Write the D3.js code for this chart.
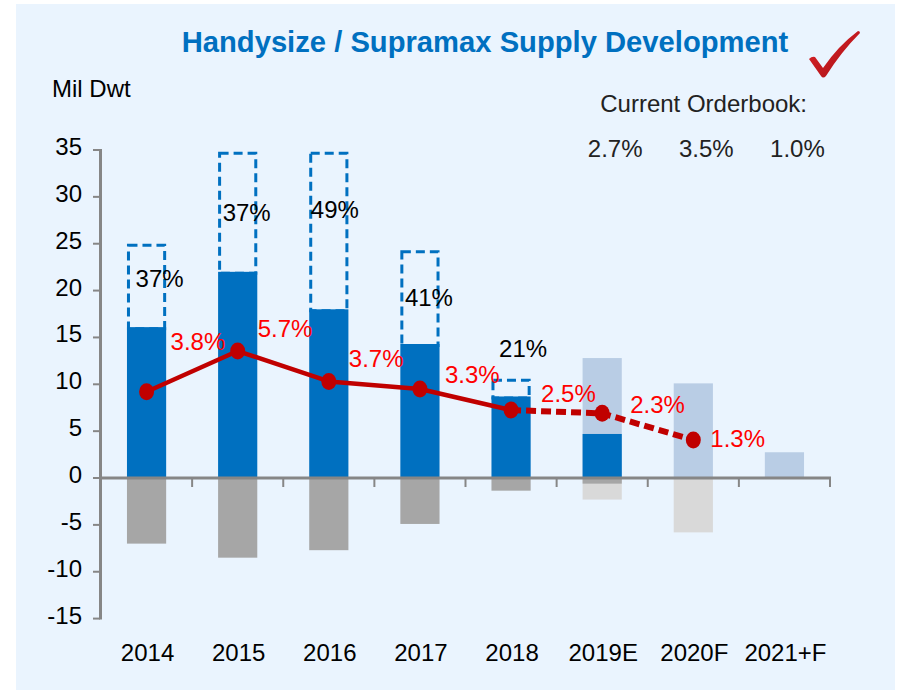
<!DOCTYPE html>
<html>
<head>
<meta charset="utf-8">
<script src="https://cdn.jsdelivr.net/npm/d3@7/dist/d3.min.js"></script>
<style>
  html, body { margin: 0; padding: 0; background: #ffffff; }
  svg { display: block; }
  text { font-family: "Liberation Sans", Arial, sans-serif; }
</style>
</head>
<body>
<svg id="chart" width="898" height="690"></svg>
<script>
// ---------- data ----------
const categories = ['2014', '2015', '2016', '2017', '2018', '2019E', '2020F', '2021+F'];
const deliveries = [16.1, 22.0, 18.0, 14.3, 8.7, 4.7, null, null];          // actual deliveries (blue)
const scheduled = [25.0, 34.8, 34.8, 24.3, 10.6, null, null, null];         // scheduled total (dashed box top)
const orderbook = [null, null, null, null, null, 12.8, 10.1, 2.75];          // orderbook (light blue)
const scrapActual = [-7.0, -8.5, -7.7, -4.9, -1.35, -0.6, null, null];      // demolition (grey)
const scrapForecast = [null, null, null, null, null, -2.3, -5.8, null];     // projected demolition (light grey)
const netFleet = [9.2, 13.55, 10.3, 9.5, 7.25, 6.9, 4.05, null];           // net fleet growth (red line)
const growthLabels = ['3.8%', '5.7%', '3.7%', '3.3%', '2.5%', '2.3%', '1.3%'];
const slippageLabels = ['37%', '37%', '49%', '41%', '21%'];
const orderbookCats = ['2019E', '2020F', '2021+F'];
const orderbookLabels = ['2.7%', '3.5%', '1.0%'];
const yTicks = [35, 30, 25, 20, 15, 10, 5, 0, -5, -10, -15];

// ---------- layout (label placement, pixel offsets / label anchors) ----------
const slipLabelLayout = [{dx: 13, y: 20.4}, {dx: 9, y: 27.45}, {dx: 6, y: 27.7}, {dx: 9, y: 18.35}, {dx: 12, y: 12.95}];
const growthLabelLayout = [{dx: 24, y: 13.66}, {dx: 20, y: 15.08}, {dx: 20, y: 11.81}, {dx: 25, y: 10.1},
                           {dx: 30, y: 8.14}, {dx: 28, y: 6.9}, {dx: 17, y: 3.34}];

const C = {
  panel: '#EAF4FE', blue: '#0070C0', lightBlue: '#B9CDE5', grey: '#A6A6A6', lightGrey: '#D9D9D9',
  red: '#C00000', redText: '#FF0000', axis: '#868686', text: '#000000'
};
const FS = 24;

const svg = d3.select('#chart');
svg.append('rect').attr('x', 16).attr('y', 4).attr('width', 879).attr('height', 686).attr('fill', C.panel);

const x = d3.scaleBand().domain(categories).range([101, 830]).padding(0);
const y = d3.scaleLinear().domain([-15, 35]).range([618.6, 150]);
const bw = x.bandwidth() * 0.43;
const cx = c => x(c) + x.bandwidth() / 2;
const bx = c => cx(c) - bw / 2;

const g = svg.append('g');

// scrapping
g.selectAll('.scrapF').data(categories.map((c, i) => ({c, v: scrapForecast[i]})).filter(d => d.v != null))
  .enter().append('rect')
  .attr('x', d => bx(d.c)).attr('width', bw)
  .attr('y', y(0)).attr('height', d => y(d.v) - y(0)).attr('fill', C.lightGrey);
g.selectAll('.scrapA').data(categories.map((c, i) => ({c, v: scrapActual[i]})).filter(d => d.v != null))
  .enter().append('rect')
  .attr('x', d => bx(d.c)).attr('width', bw)
  .attr('y', y(0)).attr('height', d => y(d.v) - y(0)).attr('fill', C.grey);

// orderbook
g.selectAll('.ob').data(categories.map((c, i) => ({c, v: orderbook[i]})).filter(d => d.v != null))
  .enter().append('rect')
  .attr('x', d => bx(d.c)).attr('width', bw)
  .attr('y', d => y(d.v)).attr('height', d => y(0) - y(d.v)).attr('fill', C.lightBlue);

// scheduled dashed boxes
g.selectAll('.sched').data(categories.map((c, i) => ({c, v: scheduled[i], d: deliveries[i]})).filter(d => d.v != null))
  .enter().append('rect')
  .attr('x', d => bx(d.c) + 1.5).attr('width', bw - 3)
  .attr('y', d => y(d.v) + 1.5).attr('height', d => y(d.d) - y(d.v))
  .attr('fill', 'none').attr('stroke', C.blue).attr('stroke-width', 3)
  .attr('stroke-dasharray', '9,5');

// deliveries
g.selectAll('.del').data(categories.map((c, i) => ({c, v: deliveries[i]})).filter(d => d.v != null))
  .enter().append('rect')
  .attr('x', d => bx(d.c)).attr('width', bw)
  .attr('y', d => y(d.v)).attr('height', d => y(0) - y(d.v)).attr('fill', C.blue);

// axes
const axisG = svg.append('g');
axisG.append('line').attr('x1', 100.5).attr('x2', 100.5).attr('y1', y(35) - 1).attr('y2', y(-15) + 1)
  .attr('stroke', C.axis).attr('stroke-width', 3);
axisG.selectAll('.yt').data(yTicks).enter().append('line')
  .attr('x1', 93).attr('x2', 100).attr('y1', d => y(d)).attr('y2', d => y(d))
  .attr('stroke', C.axis).attr('stroke-width', 2);
axisG.selectAll('.yl').data(yTicks).enter().append('text')
  .attr('x', 82).attr('y', d => y(d) + 5).attr('text-anchor', 'end')
  .attr('font-size', FS).attr('fill', C.text).text(d => d);

axisG.append('line').attr('x1', 99).attr('x2', 831).attr('y1', y(0)).attr('y2', y(0))
  .attr('stroke', C.axis).attr('stroke-width', 3);
axisG.selectAll('.xt').data(categories).enter().append('line')
  .attr('x1', d => x(d) + x.bandwidth()).attr('x2', d => x(d) + x.bandwidth())
  .attr('y1', y(0)).attr('y2', y(0) + 9)
  .attr('stroke', C.axis).attr('stroke-width', 2);
axisG.selectAll('.xl').data(categories).enter().append('text')
  .attr('x', d => cx(d) + 1).attr('y', 661).attr('text-anchor', 'middle')
  .attr('font-size', FS).attr('fill', C.text).text(d => d);

// net fleet line
const pts = categories.map((c, i) => ({c, v: netFleet[i]})).filter(d => d.v != null);
const line = d3.line().x(d => cx(d.c)).y(d => y(d.v));
const solidPts = pts.slice(0, 5);
const dashPts = pts.slice(4);
svg.append('path').attr('d', line(solidPts)).attr('fill', 'none')
  .attr('stroke', C.red).attr('stroke-width', 4.5).attr('stroke-linejoin', 'round');
svg.append('path').attr('d', line(dashPts)).attr('fill', 'none')
  .attr('stroke', C.red).attr('stroke-width', 6).attr('stroke-dasharray', '10,5');
svg.selectAll('.mk').data(pts).enter().append('ellipse')
  .attr('cx', d => cx(d.c)).attr('cy', d => y(d.v)).attr('rx', 7.5).attr('ry', 8.5)
  .attr('fill', C.red);

// slippage labels
svg.selectAll('.sl').data(slippageLabels).enter().append('text')
  .attr('x', (d, i) => cx(categories[i]) + slipLabelLayout[i].dx)
  .attr('y', (d, i) => y(slipLabelLayout[i].y))
  .attr('text-anchor', 'middle').attr('font-size', FS).attr('fill', C.text).text(d => d);

// growth labels
svg.selectAll('.gl').data(growthLabels).enter().append('text')
  .attr('x', (d, i) => cx(categories[i]) + growthLabelLayout[i].dx)
  .attr('y', (d, i) => y(growthLabelLayout[i].y))
  .attr('text-anchor', 'start').attr('font-size', FS).attr('fill', C.redText).text(d => d);

// orderbook header
svg.append('text').attr('x', 807).attr('y', 112).attr('text-anchor', 'end')
  .attr('font-size', FS).attr('fill', '#222222').text('Current Orderbook:');
svg.selectAll('.obl').data(orderbookLabels).enter().append('text')
  .attr('x', (d, i) => cx(orderbookCats[i]) + 13).attr('y', 157)
  .attr('text-anchor', 'middle').attr('font-size', FS).attr('fill', '#222222').text(d => d);

// axis unit
svg.append('text').attr('x', 52).attr('y', 97).attr('font-size', FS).attr('fill', C.text).text('Mil Dwt');

// title
svg.append('text').attr('x', 485).attr('y', 52).attr('text-anchor', 'middle')
  .attr('font-size', 29.2).attr('font-weight', 'bold').attr('fill', C.blue)
  .text('Handysize / Supramax Supply Development');

// check mark
const defs = svg.append('defs');
const grad = defs.append('linearGradient').attr('id', 'chk').attr('x1', '0').attr('y1', '0').attr('x2', '1').attr('y2', '1');
grad.append('stop').attr('offset', '0').attr('stop-color', '#E0262B');
grad.append('stop').attr('offset', '1').attr('stop-color', '#A50F14');
svg.append('path')
  .attr('d', 'M809,59 Q812,56 815,57 L823,68 Q838,46 858,31 Q860,31 860,33 Q841,52 826,76 Q823,79 821,76 Z')
  .attr('fill', 'url(#chk)');
</script>
</body>
</html>
